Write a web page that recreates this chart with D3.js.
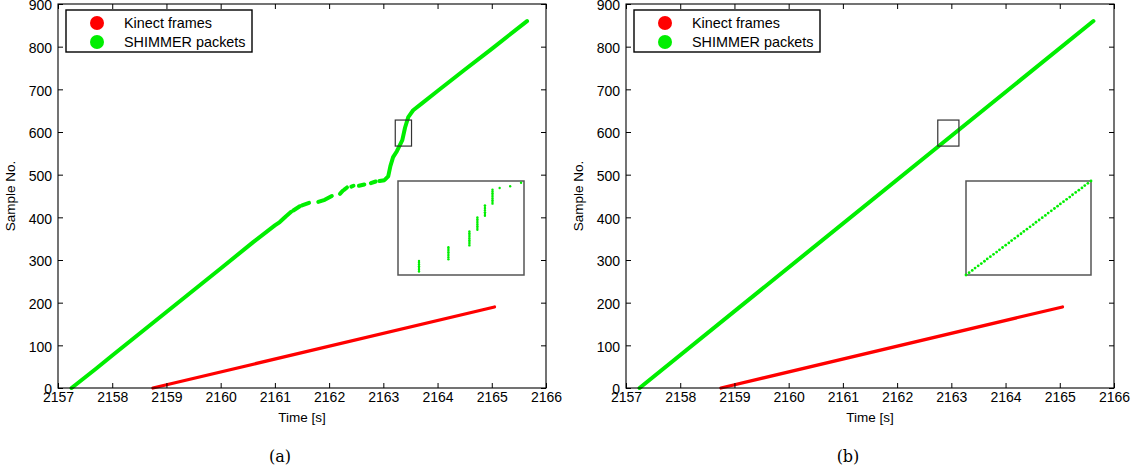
<!DOCTYPE html>
<html>
<head>
<meta charset="utf-8">
<script src="https://cdn.jsdelivr.net/npm/d3@7"></script>
<style>
  html, body { margin: 0; padding: 0; background: #fff; }
  svg { display: block; }
  text { font-family: "Liberation Sans", Arial, sans-serif; fill: #000; }
  .caption { font-family: "DejaVu Serif", "Liberation Serif", serif; }
</style>
</head>
<body>
<svg id="chart" width="1134" height="474"></svg>
<script>
// ---- data ----------------------------------------------------------
const xTicks = [2157, 2158, 2159, 2160, 2161, 2162, 2163, 2164, 2165, 2166];
const yTicks = [0, 100, 200, 300, 400, 500, 600, 700, 800, 900];
const legendLabels = ["Kinect frames", "SHIMMER packets"];
const seriesColors = ["#ff0000", "#00ee00"];

// Kinect frames: [time, frame no.]
const kinectTimes = [2158.75, 2165.05];
const kinectSamples = [0, 190];

// SHIMMER packets, panel (a): arrival runs, each [time, sample] list
const shimmerRunsA = [
  [[2157.25, 0], [2157.70, 45], [2158.0, 76], [2159.0, 178], [2160.0, 280], [2160.6, 342], [2161.0, 381], [2161.09, 389], [2161.20, 402], [2161.30, 413]],
  [[2161.34, 416], [2161.46, 426]],
  [[2161.50, 428], [2161.63, 434]],
  [[2161.80, 436], [2161.92, 441], [2162.05, 450]],
  [[2162.20, 455], [2162.25, 462]],
  [[2162.28, 465], [2162.33, 470]],
  [[2162.41, 472], [2162.45, 474]],
  [[2162.55, 474], [2162.65, 477]],
  [[2162.77, 480], [2162.86, 484]],
  [[2162.93, 485], [2163.02, 487], [2163.09, 496], [2163.13, 520], [2163.18, 541], [2163.25, 555],
   [2163.35, 581], [2163.40, 610], [2163.46, 635], [2163.55, 651], [2163.70, 666], [2164.0, 696],
   [2164.5, 746], [2165.0, 795], [2165.65, 860]]
];

// SHIMMER packets, panel (b)
const shimmerTimesB = [2157.25, 2165.62];
const shimmerSamplesB = [0, 860];

// magnified window, panel (a): bursts of packets sharing one arrival time
const zoomDomainA = { t: [2163.25, 2163.55], s: [574, 628] };
const burstTimesA = [2163.300, 2163.370, 2163.420, 2163.439, 2163.457, 2163.475, 2163.492, 2163.517, 2163.543];
const burstFirstA = [576, 583, 591, 600, 608, 615, 624, 625, 627];
const burstLastA  = [582, 590, 599, 607, 614, 623, 624, 625, 627];

// magnified window, panel (b): evenly paced packets
const zoomDomainB = { t: [2162.80, 2163.20], s: [575, 616] };
const zoomSamplesB = [575, 576, 577, 578, 579, 580, 581, 582, 583, 584, 585, 586, 587, 588,
  589, 590, 591, 592, 593, 594, 595, 596, 597, 598, 599, 600, 601, 602, 603, 604, 605, 606,
  607, 608, 609, 610, 611, 612, 613, 614, 615, 616];
const zoomTimesB = [2162.800, 2162.810, 2162.820, 2162.829, 2162.839, 2162.849, 2162.859,
  2162.868, 2162.878, 2162.888, 2162.898, 2162.907, 2162.917, 2162.927, 2162.937, 2162.946,
  2162.956, 2162.966, 2162.976, 2162.985, 2162.995, 2163.005, 2163.015, 2163.024, 2163.034,
  2163.044, 2163.054, 2163.063, 2163.073, 2163.083, 2163.093, 2163.102, 2163.112, 2163.122,
  2163.132, 2163.141, 2163.151, 2163.161, 2163.171, 2163.180, 2163.190, 2163.200];

// source rectangles of the magnified windows: [t0, t1, s0, s1]
const markRectA = [2163.22, 2163.52, 567, 628];
const markRectB = [2162.75, 2163.14, 567, 628];

// ---- drawing -------------------------------------------------------
const svg = d3.select("#chart");

function panel(opts) {
  const g = svg.append("g");
  const x = d3.scaleLinear().domain([2157, 2166]).range([opts.left, opts.left + 488]);
  const y = d3.scaleLinear().domain([0, 900]).range([388, 4]);

  // series
  const line = d3.line().x(d => x(d[0])).y(d => y(d[1]));
  g.append("path")
    .datum(d3.zip(kinectTimes, kinectSamples))
    .attr("d", line).attr("fill", "none")
    .attr("stroke", seriesColors[0]).attr("stroke-width", 3.2)
    .attr("stroke-linecap", "round");
  opts.shimmerRuns.forEach(run => {
    g.append("path")
      .datum(run)
      .attr("d", line).attr("fill", "none")
      .attr("stroke", seriesColors[1]).attr("stroke-width", 4)
      .attr("stroke-linecap", "round").attr("stroke-linejoin", "round");
  });

  // axes with ticks on all four sides, pointing inward
  const fmt = d3.format("d");
  const bottom = d3.axisBottom(x).tickValues(xTicks).tickFormat(fmt).tickSizeInner(-5).tickSizeOuter(0).tickPadding(6);
  const top = d3.axisTop(x).tickValues(xTicks).tickFormat("").tickSizeInner(-5).tickSizeOuter(0);
  const left = d3.axisLeft(y).tickValues(yTicks).tickFormat(fmt).tickSizeInner(-5).tickSizeOuter(0).tickPadding(6);
  const right = d3.axisRight(y).tickValues(yTicks).tickFormat("").tickSizeInner(-5).tickSizeOuter(0);

  const styleAxis = a => {
    a.select(".domain").remove();
    a.selectAll("line").attr("stroke", "#000").attr("stroke-width", 1);
    a.selectAll("text").attr("font-size", 14).attr("font-family", "Liberation Sans, Arial, sans-serif").attr("fill", "#000");
  };
  g.append("g").attr("transform", "translate(0,388)").call(bottom).call(styleAxis)
    .selectAll("text").attr("dy", "0.55em");
  g.append("g").attr("transform", "translate(0,4)").call(top).call(styleAxis);
  g.append("g").attr("transform", `translate(${opts.left},0)`).call(left).call(styleAxis)
    .selectAll("text").attr("dy", "0.42em");
  g.append("g").attr("transform", `translate(${opts.left + 488},0)`).call(right).call(styleAxis);

  g.append("rect")
    .attr("x", opts.left).attr("y", 4).attr("width", 488).attr("height", 384)
    .attr("fill", "none").attr("stroke", "#000").attr("stroke-width", 1.1);

  // axis titles
  g.append("text").attr("x", opts.left + 244).attr("y", 422)
    .attr("text-anchor", "middle").attr("font-size", 13.5).text("Time [s]");
  g.append("text")
    .attr("transform", `translate(${opts.left - 43},196) rotate(-90)`)
    .attr("text-anchor", "middle").attr("font-size", 13.5).text("Sample No.");

  // caption
  g.append("text").attr("class", "caption")
    .attr("x", opts.left + 222).attr("y", 462)
    .attr("text-anchor", "middle").attr("font-size", 16).text(opts.caption);

  // legend
  const lg = g.append("g");
  lg.append("rect").attr("x", opts.left + 8).attr("y", 10).attr("width", 186).attr("height", 42)
    .attr("fill", "#fff").attr("stroke", "#000").attr("stroke-width", 1.4);
  legendLabels.forEach((lab, i) => {
    lg.append("circle").attr("cx", opts.left + 39).attr("cy", 23 + i * 19).attr("r", 7)
      .attr("fill", seriesColors[i]);
    lg.append("text").attr("x", opts.left + 66).attr("y", 28 + i * 19)
      .attr("font-size", 14.4).text(lab);
  });

  // marker rectangle around the magnified region
  const mr = opts.markRect;
  g.append("rect")
    .attr("x", x(mr[0])).attr("y", y(mr[3]))
    .attr("width", x(mr[1]) - x(mr[0])).attr("height", y(mr[2]) - y(mr[3]))
    .attr("fill", "none").attr("stroke", "#333").attr("stroke-width", 1.2);

  // magnified window
  const ib = opts.inset;
  const ig = g.append("g");
  ig.append("rect").attr("x", ib.x).attr("y", ib.y).attr("width", ib.w).attr("height", ib.h)
    .attr("fill", "#fff").attr("stroke", "#555").attr("stroke-width", 1.5);
  const ix = d3.scaleLinear().domain(ib.domain.t).range([ib.x, ib.x + ib.w]);
  const iy = d3.scaleLinear().domain(ib.domain.s).range([ib.y + ib.h, ib.y]);
  ig.selectAll("circle.pkt").data(ib.points).join("circle")
    .attr("class", "pkt")
    .attr("cx", d => ix(d[0])).attr("cy", d => iy(d[1]))
    .attr("r", ib.r).attr("fill", seriesColors[1]);
}

// expand bursts into individual packets
const burstPointsA = [];
burstTimesA.forEach((t, i) => {
  for (let s = burstFirstA[i]; s <= burstLastA[i]; s++) burstPointsA.push([t, s]);
});

panel({
  left: 58,
  caption: "(a)",
  shimmerRuns: shimmerRunsA,
  markRect: markRectA,
  inset: { x: 398, y: 181, w: 126, h: 94, r: 1.2, domain: zoomDomainA, points: burstPointsA }
});

panel({
  left: 626,
  caption: "(b)",
  shimmerRuns: [d3.zip(shimmerTimesB, shimmerSamplesB)],
  markRect: markRectB,
  inset: { x: 966, y: 181, w: 125, h: 94, r: 1.4, domain: zoomDomainB, points: d3.zip(zoomTimesB, zoomSamplesB) }
});
</script>
</body>
</html>
